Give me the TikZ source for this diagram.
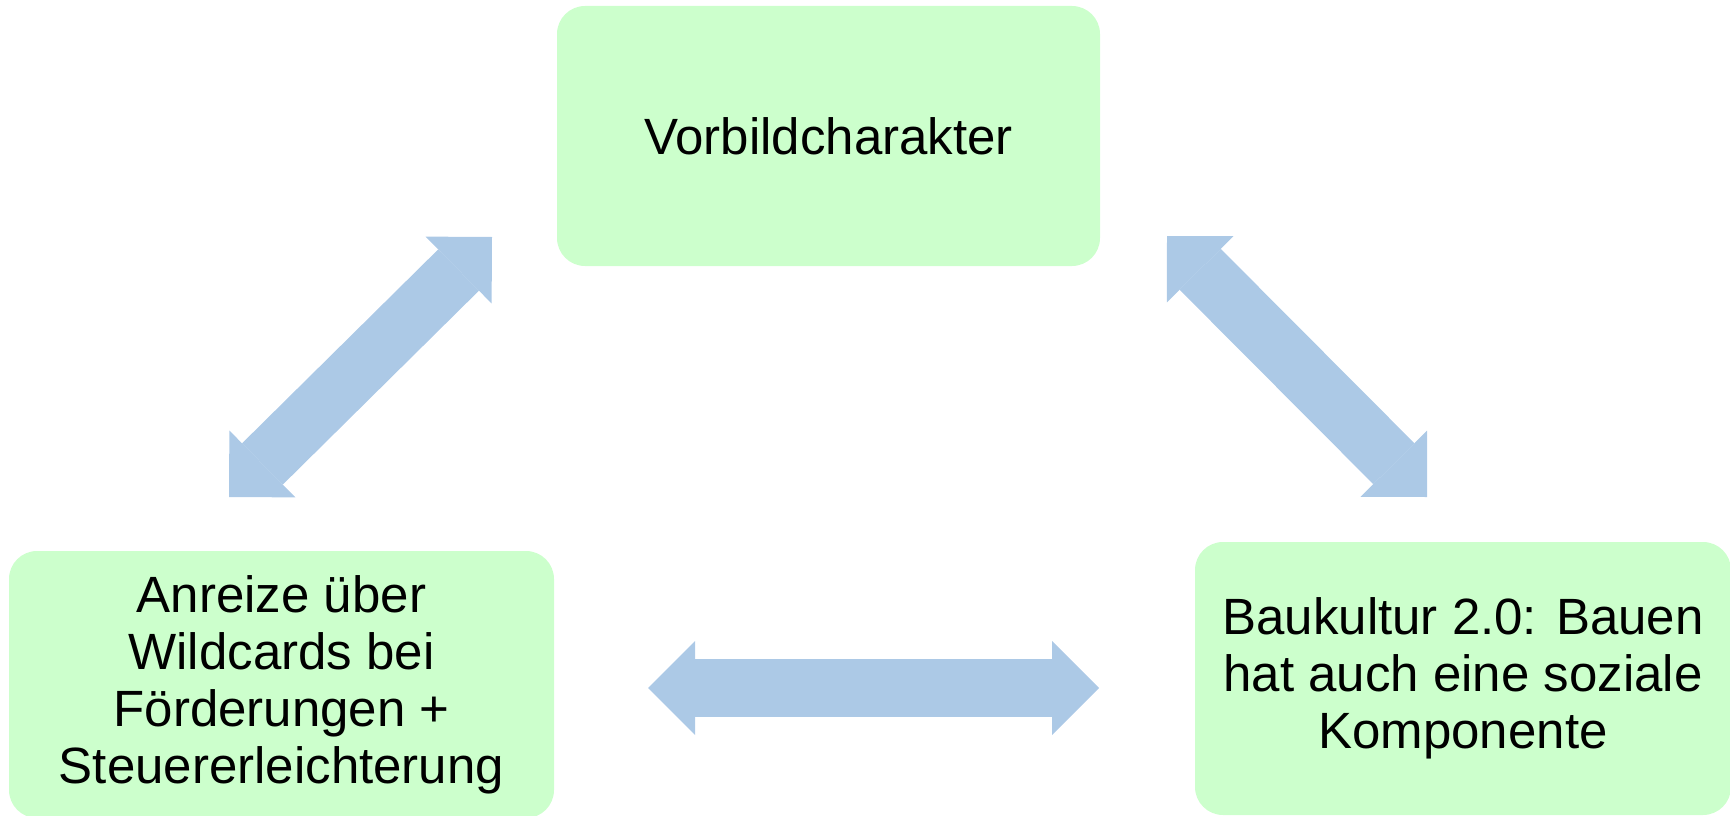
\documentclass[tikz,border=0pt]{standalone}
\usepackage{fontspec}
\setmainfont{Liberation Sans}
\usetikzlibrary{arrows.meta}
\definecolor{boxgreen}{HTML}{CCFFCC}
\definecolor{arrowblue}{HTML}{ACC9E6}
\begin{document}
\begin{tikzpicture}[x=1pt,y=-1pt,
  box/.style={fill=boxgreen, rounded corners=28pt, align=center,
    font=\fontsize{51}{57}\selectfont, inner sep=0pt},
  bigtip/.tip={Triangle[length=47pt,width=94pt,line width=0pt]},
  link/.style={draw=arrowblue, line width=58pt, bigtip-bigtip}
]
\useasboundingbox (0,0) rectangle (1730,816);
\node[box, minimum width=543pt, minimum height=260pt] (top) at (828.5,136) {Vorbildcharakter};
\node[box, minimum width=545pt, minimum height=267pt] (left) at (281.5,684.5)
  {Anreize über\\Wildcards bei\\Förderungen +\\Steuererleichterung};
\node[box, minimum width=536pt, minimum height=273pt] (right) at (1463,678.5)
  {Baukultur 2.0: Bauen\\hat auch eine soziale\\Komponente};
\coordinate (la) at (229,497);
\coordinate (lb) at (492,237);
\coordinate (ra) at (1167,236);
\coordinate (rb) at (1427,497);
\coordinate (ha) at (648,688);
\coordinate (hb) at (1099,688);
\draw[link] (la) -- (lb);
\draw[link] (ra) -- (rb);
\draw[link] (ha) -- (hb);
\end{tikzpicture}
\end{document}
